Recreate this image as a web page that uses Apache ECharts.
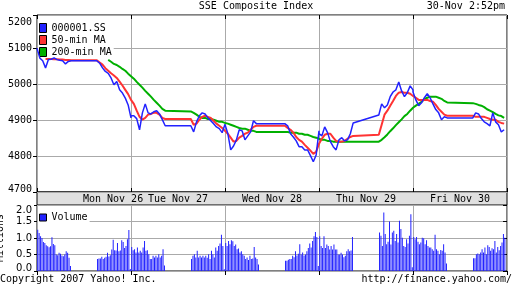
<!DOCTYPE html>
<html><head><meta charset="utf-8">
<script src="https://cdn.jsdelivr.net/npm/echarts@6/dist/echarts.min.js"></script>
<style>html,body{margin:0;padding:0;background:#fff}#c{width:512px;height:288px}</style>
</head><body><div id="c"></div>
<script>
// ---------- data ----------
const dayLabels = ['Mon Nov 26', 'Tue Nov 27', 'Wed Nov 28', 'Thu Nov 29', 'Fri Nov 30'];
const seriesNames = ['000001.SS', '50-min MA', '200-min MA'];
const priceTickLabels = ['4700', '4800', '4900', '5000', '5100', '5200'];
const volumeTickLabels = ['0.0', '0.5', '1.0', '1.5', '2.0'];

// minutes after 9:30 within a trading day (lunch 11:30-13:00 kept on the axis)
const priceSlots = [0,10,20,30,40,50,60,70,80,90,100,110,120,210,220,230,240,250,260,270,280,290,300,310,320,330];
const volSlotsAM = [0,5,10,15,20,25,30,35,40,45,50,55,60,65,70,75,80,85,90,95,100,105,110,115];
const volSlotsPM = [210,215,220,225,230,235,240,245,250,255,260,265,270,275,280,285,290,295,300,305,310,315,320,325];

const priceMon = [5100,5072,5065,5045,5068,5069,5073,5068,5066,5065,5056,5063,5065, 5065,5058,5045,5035,5030,5017,4998,5007,4984,4975,4961,4942,4906];
const priceTue = [4912,4912,4904,4873,4920,4945,4920,4917,4923,4926,4917,4901,4884, 4884,4867,4895,4912,4920,4917,4906,4898,4890,4881,4876,4865,4888];
const priceWed = [4888,4862,4817,4828,4845,4873,4870,4845,4856,4867,4898,4890,4890, 4890,4884,4862,4853,4842,4826,4826,4817,4817,4801,4784,4803,4870];
const priceThu = [4862,4856,4881,4865,4840,4826,4817,4845,4851,4842,4845,4862,4892, 4914,4945,4934,4942,4965,4978,4984,5006,4981,4965,4976,4995,4984];
const priceFri = [4978,4956,4940,4948,4962,4973,4962,4945,4929,4920,4901,4909,4906, 4906,4920,4917,4904,4895,4890,4884,4920,4895,4887,4867,4873];

const ma50Mon = [null,null,null,5070,5070,5070,5069,5069,5068,5068,5067,5067,5066, 5066,5060,5054,5044,5037,5030,5024,5017,5007,4996,4984,4972,4956];
const ma50Tue = [4956,4945,4926,4909,4901,4906,4915,4917,4920,4920,4915,4906,4903, 4903,4887,4890,4901,4909,4912,4909,4906,4898,4890,4884,4878,4870];
const ma50Wed = [4870,4862,4851,4840,4842,4851,4856,4862,4865,4873,4881,4884,4884, 4884,4878,4873,4865,4853,4845,4840,4831,4823,4815,4806,4812,4834];
const ma50Thu = [4834,4848,4859,4862,4862,4851,4842,4840,4840,4842,4848,4853,4856, 4859,4887,4915,4926,4940,4953,4967,4976,4978,4976,4976,4973,4967];
const ma50Fri = [4967,4962,4956,4956,4956,4956,4953,4951,4942,4931,4923,4915,4912, 4912,4909,4909,4909,4909,4906,4903,4901,4901,4895,4892,4890];

const ma200Mon = [null,null,null,null,null,null,null,null,null,null,null,null,null, null,null,null,null,5067,5062,5056,5053,5048,5042,5037,5029,5022];
const ma200Tue = [5022,5015,5006,4998,4990,4981,4973,4965,4956,4948,4940,4931,4926, 4924,4920,4915,4909,4906,4906,4903,4903,4901,4898,4895,4895,4892];
const ma200Wed = [4892,4890,4887,4884,4881,4878,4876,4876,4873,4870,4870,4867,4867, 4867,4867,4865,4865,4865,4862,4862,4859,4859,4856,4853,4851,4848];
const ma200Thu = [4848,4845,4845,4842,4842,4840,4840,4840,4840,4840,4840,4840,4840, 4840,4845,4852,4860,4869,4877,4886,4894,4902,4911,4917,4926,4934];
const ma200Fri = [4934,4940,4945,4951,4958,4962,4965,4965,4965,4962,4959,4953,4949, 4947,4945,4942,4940,4936,4930,4926,4922,4917,4913,4911,4906];

// volume (millions), 5-minute bars, morning / afternoon sessions
const volMonAM = [1.25,1.15,1.05,1.0,0.88,0.85,0.78,0.75,0.72,0.75,1.02,0.82,0.78,0.5,0.48,0.55,0.52,0.47,0.45,0.5,0.6,0.55,0.4,0.15];
const volMonPM = [0.36,0.38,0.38,0.43,0.36,0.4,0.43,0.55,0.44,0.48,0.65,0.95,0.63,0.62,0.85,0.6,0.62,0.93,0.88,0.7,0.76,0.96,1.24,0.06];
const volTueAM = [0.73,0.63,0.66,0.56,0.71,0.56,0.61,0.56,0.71,0.91,0.61,0.63,0.51,0.36,0.36,0.46,0.41,0.46,0.41,0.51,0.41,0.46,0.66,0.17];
const volTuePM = [0.36,0.46,0.51,0.41,0.61,0.41,0.46,0.41,0.46,0.41,0.46,0.4,0.51,0.36,0.61,0.51,0.41,0.71,0.61,0.76,0.83,1.1,0.76,0.05];
const volWedAM = [0.85,0.76,0.91,0.81,0.93,0.9,0.76,0.8,0.66,0.68,0.56,0.6,0.51,0.46,0.36,0.41,0.33,0.46,0.36,0.38,0.73,0.41,0.36,0.2];
const volWedPM = [0.31,0.31,0.34,0.36,0.36,0.46,0.42,0.6,0.47,0.52,0.81,0.5,0.56,0.47,0.5,0.6,0.7,0.83,0.71,0.91,1.05,1.18,1.03,0.15];
const volThuAM = [1.05,0.76,0.7,1.05,0.7,0.8,0.76,0.65,0.76,0.65,0.8,0.65,0.65,0.5,0.5,0.55,0.5,0.42,0.46,0.6,0.66,0.6,0.62,1.03];
const volThuPM = [1.17,1.07,0.76,1.77,1.12,0.81,0.89,1.5,0.8,1.17,1.22,0.91,1.12,0.86,1.52,1.27,1.01,0.76,0.73,0.96,0.83,1.07,1.72,0.11];
const volFriAM = [1.03,0.96,1.03,0.89,0.81,0.86,1.01,0.99,0.81,0.93,0.76,0.71,0.71,0.66,0.61,1.1,0.66,0.61,0.51,0.64,0.61,0.81,0.56,0.23];
const volFriPM = [0.39,0.39,0.51,0.53,0.51,0.56,0.66,0.56,0.71,0.51,0.78,0.73,0.61,0.69,0.66,0.91,0.56,0.73,0.63,0.76,0.86,1.12,1.01];

// ---------- build ----------
const DAY = 330;  // minutes 9:30-15:00 per trading day on the axis
const STEP = 5;   // minutes per volume bar slot
function linePoints(days) {
  const out = [];
  days.forEach((vals, d) => vals.forEach((v, i) => { if (v != null) out.push([d * DAY + priceSlots[i], v]); }));
  return out;
}
// 5-minute slot categories across the five trading days
const volCategories = [];
dayLabels.forEach(day => {
  for (let m = 0; m < DAY; m += STEP) {
    const t = 9 * 60 + 30 + m, h = Math.floor(t / 60), mm = t % 60;
    volCategories.push(day + ' ' + h + ':' + (mm < 10 ? '0' : '') + mm);
  }
});
const SLOTS_PER_DAY = DAY / STEP;
function volPoints(sessions) {
  const out = [];
  sessions.forEach((vals, s) => {
    const d = Math.floor(s / 2), slots = s % 2 ? volSlotsPM : volSlotsAM;
    vals.forEach((v, i) => out.push([(d * DAY + slots[i]) / STEP, v]));
  });
  return out;
}
const FONT = 'DejaVu Sans Mono';
const BLUE = '#2222ff', RED = '#ff3333', GREEN = '#00b000', GRID = '#aaaaaa';
const txt = { fontFamily: FONT, fontSize: 10, color: '#000' };
const txtVol = { fontFamily: 'DejaVu Sans', fontSize: 10, color: '#000' };
const dayLabelAt = [267, 495, 825, 1155, 1485];
const dayEdge = i => i % SLOTS_PER_DAY === 0;

const xBase = (gi, extra) => Object.assign({
  gridIndex: gi, type: 'value', min: 0, max: 5 * DAY, interval: DAY,
  axisLine: { show: false }, axisLabel: { show: false },
  axisTick: { show: true, inside: true, length: 4, lineStyle: { color: '#000' } },
  splitLine: { show: false }
}, extra || {});
const xCat = (extra) => Object.assign({
  gridIndex: 1, type: 'category', data: volCategories, boundaryGap: true,
  axisLine: { show: false }, axisLabel: { show: false },
  axisTick: { show: false }, splitLine: { show: false }
}, extra || {});
const gridBase = { left: 37, right: 5, show: true, borderColor: '#000', borderWidth: 1, containLabel: false, outerBoundsMode: 'none' };

const chart = echarts.init(document.getElementById('c'), null, { renderer: 'canvas' });
chart.setOption({
  animation: false,
  backgroundColor: '#fff',
  title: [
    { text: 'SSE Composite Index', left: 'center', top: 1, padding: 0, textStyle: Object.assign({ fontWeight: 'normal' }, txt) },
    { text: '30-Nov 2:52pm', right: 7, top: 1, padding: 0, textStyle: Object.assign({ fontWeight: 'normal' }, txt) },
    { text: 'Copyright 2007 Yahoo! Inc.', left: 0, top: 274, padding: 0, textStyle: Object.assign({ fontWeight: 'normal' }, txt) },
    { text: 'http://finance.yahoo.com/', right: 0, top: 274, padding: 0, textStyle: Object.assign({ fontWeight: 'normal' }, txt) }
  ],
  legend: [
    { data: seriesNames.map(n => ({ name: n, icon: 'rect' })), orient: 'vertical', left: 38, top: 22,
      itemWidth: 7, itemHeight: 9, itemGap: 0, padding: [0, 2, 0, 1], backgroundColor: '#fff', z: 1,
      textStyle: Object.assign({ lineHeight: 12 }, txt), itemStyle: { borderColor: '#000', borderWidth: 1 },
      lineStyle: { width: 0, opacity: 0 }, selectedMode: false },
    { data: [{ name: 'Volume', icon: 'rect' }], orient: 'vertical', left: 38, top: 211.5,
      itemWidth: 7, itemHeight: 7, itemGap: 0, padding: [0, 2, 0, 1], backgroundColor: '#fff', z: 1,
      textStyle: Object.assign({ lineHeight: 12 }, txt), itemStyle: { borderColor: '#000', borderWidth: 1 }, selectedMode: false }
  ],
  grid: [
    Object.assign({ top: 15, height: 177, backgroundColor: '#fff' }, gridBase),
    Object.assign({ top: 205, height: 66, backgroundColor: '#fff' }, gridBase),
    Object.assign({ top: 192, height: 13, backgroundColor: '#e0e0e0' }, gridBase)
  ],
  xAxis: [
    xBase(0, { splitLine: { show: true, lineStyle: { color: GRID } } }),
    xCat({ splitLine: { show: true, interval: dayEdge, lineStyle: { color: GRID } } }),
    xBase(2, { axisTick: { show: false },
      axisLabel: Object.assign({ show: true, inside: true, margin: 1, customValues: dayLabelAt,
        formatter: v => dayLabels[dayLabelAt.indexOf(v)] }, txt) }),
    xBase(0, { position: 'top' }),
    xCat({ position: 'top', axisTick: { show: true, inside: true, length: 4, interval: dayEdge, lineStyle: { color: '#000' } } })
  ],
  yAxis: [
    { gridIndex: 0, type: 'value', min: 4700, max: 5192, interval: 100, position: 'left',
      axisLine: { show: false }, axisTick: { show: true, length: 3, lineStyle: { color: '#000' } },
      splitLine: { show: true, lineStyle: { color: GRID } },
      axisLabel: Object.assign({ margin: 5,
        formatter: v => { const i = Math.round((v - 4700) / 100); const s = priceTickLabels[i];
          return i === priceTickLabels.length - 1 ? '{t|' + s + '}' : i === 0 ? '{b|' + s + '}' : s; },
        rich: { t: Object.assign({ padding: [15, 0, 0, 0] }, txt), b: Object.assign({ padding: [0, 0, 5, 0] }, txt) } }, txt) },
    { gridIndex: 0, type: 'value', min: 4700, max: 5192, interval: 100, position: 'right',
      axisLine: { show: false }, axisLabel: { show: false }, splitLine: { show: false },
      axisTick: { show: true, inside: true, length: 4, lineStyle: { color: '#000' } } },
    { gridIndex: 1, type: 'value', min: 0, max: 2, interval: 0.5, position: 'left',
      name: 'Millions', nameLocation: 'middle', nameRotate: 90, nameGap: 28, nameTextStyle: txt,
      axisLine: { show: false }, axisTick: { show: true, length: 3, lineStyle: { color: '#000' } },
      splitLine: { show: true, lineStyle: { color: GRID } },
      axisLabel: Object.assign({ margin: 5,
        formatter: v => { const i = Math.round(v / 0.5); const s = volumeTickLabels[i];
          return i === volumeTickLabels.length - 1 ? '{t|' + s + '}' : i === 0 ? '{b|' + s + '}' : s; },
        rich: { t: Object.assign({ padding: [11, 0, 0, 0] }, txtVol), b: Object.assign({ padding: [0, 0, 5, 0] }, txtVol) } }, txtVol) },
    { gridIndex: 1, type: 'value', min: 0, max: 2, interval: 0.5, position: 'right',
      axisLine: { show: false }, axisLabel: { show: false }, splitLine: { show: false },
      axisTick: { show: true, inside: true, length: 4, lineStyle: { color: '#000' } } },
    { gridIndex: 2, type: 'value', min: 0, max: 1, show: false }
  ],
  series: [
    { name: '200-min MA', type: 'line', xAxisIndex: 0, yAxisIndex: 0, showSymbol: false, z: 2,
      data: linePoints([ma200Mon, ma200Tue, ma200Wed, ma200Thu, ma200Fri]),
      lineStyle: { color: GREEN, width: 2 }, itemStyle: { color: GREEN } },
    { name: '50-min MA', type: 'line', xAxisIndex: 0, yAxisIndex: 0, showSymbol: false, z: 3,
      data: linePoints([ma50Mon, ma50Tue, ma50Wed, ma50Thu, ma50Fri]),
      lineStyle: { color: RED, width: 2 }, itemStyle: { color: RED } },
    { name: '000001.SS', type: 'line', xAxisIndex: 0, yAxisIndex: 0, showSymbol: false, z: 4,
      data: linePoints([priceMon, priceTue, priceWed, priceThu, priceFri]),
      lineStyle: { color: BLUE, width: 1.5 }, itemStyle: { color: BLUE } },
    { name: 'Volume', type: 'bar', xAxisIndex: 1, yAxisIndex: 2, barWidth: 1,
      data: volPoints([volMonAM, volMonPM, volTueAM, volTuePM, volWedAM, volWedPM, volThuAM, volThuPM, volFriAM, volFriPM]),
      itemStyle: { color: BLUE } }
  ]
});
</script></body></html>
